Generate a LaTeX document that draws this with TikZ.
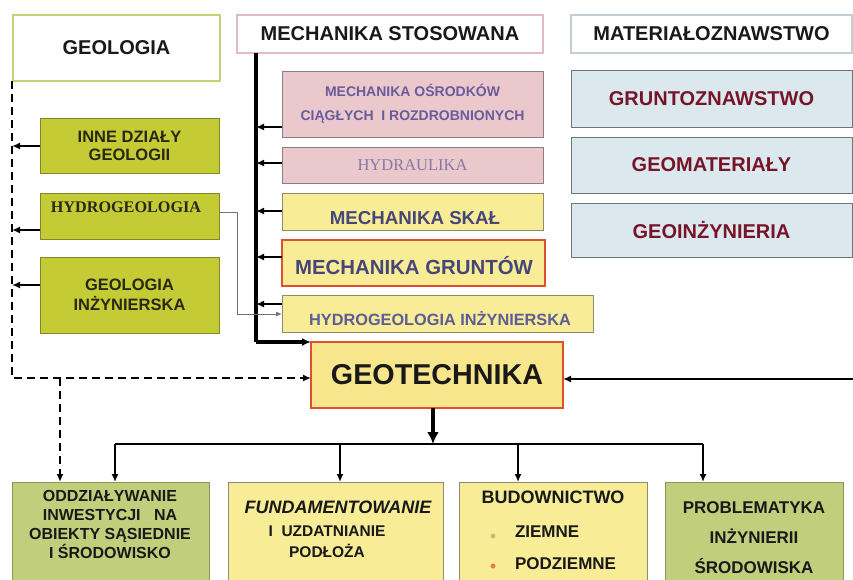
\documentclass[tikz,border=0pt]{standalone}
\usepackage{fontspec}
\setmainfont{Liberation Sans}
\newfontfamily\serifB{Liberation Serif}
\usetikzlibrary{arrows.meta}
\newcommand\setfs[2]{\fontsize{#1}{#2}\selectfont}
\definecolor{gfill}{RGB}{196,203,52}
\definecolor{gborder}{RGB}{130,135,40}
\definecolor{gtext}{RGB}{40,40,20}
\definecolor{pfill}{RGB}{234,200,204}
\definecolor{pborder}{RGB}{140,125,130}
\definecolor{ptext}{RGB}{105,92,156}
\definecolor{htext}{RGB}{135,120,165}
\definecolor{yfill}{RGB}{248,236,150}
\definecolor{yborder}{RGB}{140,140,110}
\definecolor{ytext}{RGB}{70,70,120}
\definecolor{hitext}{RGB}{92,92,152}
\definecolor{redb}{RGB}{225,80,45}
\definecolor{bfill}{RGB}{219,233,239}
\definecolor{bborder}{RGB}{110,118,125}
\definecolor{btext}{RGB}{120,20,40}
\definecolor{geolb}{RGB}{200,208,120}
\definecolor{msb}{RGB}{225,185,200}
\definecolor{matb}{RGB}{195,205,215}
\definecolor{lgfill}{RGB}{193,207,124}
\definecolor{lgborder}{RGB}{140,150,90}
\definecolor{txtblack}{RGB}{25,25,25}
\definecolor{geofill}{RGB}{247,230,140}
\begin{document}
\begin{tikzpicture}[x=1pt,y=-1pt,
  every node/.style={outer sep=0pt, inner sep=0pt},
  hdr/.style={draw, line width=1.2pt, fill=white, font=\bfseries\setfs{20}{24}, text=txtblack},
  gbox/.style={draw=gborder, fill=gfill, line width=1pt, font=\bfseries\setfs{16.5}{18}, text=gtext, align=center},
  pbox/.style={draw=pborder, fill=pfill, line width=1pt},
  ybox/.style={draw=yborder, fill=yfill, line width=1pt},
  bbox/.style={draw=bborder, fill=bfill, line width=1pt, font=\bfseries\setfs{20}{24}, text=btext},
  lowbox/.style={draw=lgborder, line width=1pt},
  lowtext/.style={font=\bfseries\setfs{16}{19}, text=txtblack, align=center},
  conn/.style={line width=2.6pt, -{Latex[length=8pt,width=7pt]}},
  trunk/.style={line width=3.2pt},
  dashline/.style={line width=2.8pt, dash pattern=on 8pt off 5pt},
  thinarr/.style={line width=1pt, draw=black!55, -{Latex[length=6pt,width=5pt]}},
  bullet/.style={circle, minimum size=5pt}
]
\useasboundingbox (0,0) rectangle (853,579);
\clip (0,0) rectangle (853,579);
\fill[white] (0,0) rectangle (853,579);

% headers
\node[hdr, draw=geolb, minimum width=207pt, minimum height=66pt] (geol) at (116.5,48) {GEOLOGIA};
\node[hdr, draw=msb, minimum width=306pt, minimum height=38pt] (ms) at (390,34) {MECHANIKA STOSOWANA};
\node[hdr, draw=matb, minimum width=281pt, minimum height=38pt] (mat) at (711.5,34) {MATERIAŁOZNAWSTWO};

% material boxes
\node[bbox, minimum width=281pt, minimum height=57pt] (grunt) at (711.5,98.5) {GRUNTOZNAWSTWO};
\node[bbox, minimum width=281pt, minimum height=56pt] (geomat) at (711.5,165) {GEOMATERIAŁY};
\node[bbox, minimum width=281pt, minimum height=54pt] (geoinz) at (711.5,230) {GEOINŻYNIERIA};

% mechanics boxes
\node[pbox, minimum width=261pt, minimum height=66pt, font=\bfseries\setfs{14}{24}, text=ptext, align=center] (mos) at (412.5,104) {MECHANIKA OŚRODKÓW\\CIĄGŁYCH\ \ I ROZDROBNIONYCH};
\node[pbox, minimum width=261pt, minimum height=36pt, font=\serifB\setfs{16.5}{18}, text=htext] (hydr) at (412.5,165) {HYDRAULIKA};
\node[ybox, minimum width=261pt, minimum height=37pt] (skal) at (412.5,211.5) {};
\node[font=\bfseries\setfs{18.7}{22}, text=ytext] (skalt) at (415,218) {MECHANIKA SKAŁ};
\node[ybox, draw=redb, line width=1.6pt, minimum width=263pt, minimum height=46pt] (mg) at (413.5,263) {};
\node[font=\bfseries\setfs{20.4}{24}, text=ytext] (mgt) at (414,266) {MECHANIKA GRUNTÓW};
\node[ybox, minimum width=311pt, minimum height=37pt] (hinz) at (437.5,313.5) {};
\node[font=\bfseries\setfs{16.3}{20}, text=hitext] (hinzt) at (440,319) {HYDROGEOLOGIA INŻYNIERSKA};

% geotechnika
\node[draw=redb, fill=geofill, line width=1.6pt, minimum width=252pt, minimum height=66pt, font=\bfseries\setfs{28.7}{32}, text=txtblack] (geo) at (437,375) {GEOTECHNIKA};

% geology boxes
\node[gbox, minimum width=179pt, minimum height=55pt] (inne) at (129.5,145.5) {INNE DZIAŁY\\GEOLOGII};
\node[gbox, minimum width=179pt, minimum height=46pt] (hydro) at (129.5,216) {};
\node[font=\serifB\bfseries\setfs{16.2}{18}, text=gtext] (hydrot) at (126,207) {HYDROGEOLOGIA};
\node[gbox, minimum width=179pt, minimum height=76pt, font=\bfseries\setfs{16.5}{20}] (ginz) at (129.5,295) {GEOLOGIA\\INŻYNIERSKA};

% bottom boxes
\node[lowbox, fill=lgfill, minimum width=197pt, minimum height=130pt] (oddz) at (110.5,547) {};
\node[lowbox, draw=yborder, fill=yfill, minimum width=215pt, minimum height=130pt] (fund) at (335.5,547) {};
\node[lowbox, draw=yborder, fill=yfill, minimum width=188pt, minimum height=130pt] (bud) at (553,547) {};
\node[lowbox, fill=lgfill, minimum width=178pt, minimum height=130pt] (prob) at (754,547) {};

\node[lowtext] (oddzt) at (110,524) {ODDZIAŁYWANIE\\INWESTYCJI\ \ \ NA\\OBIEKTY SĄSIEDNIE\\I ŚRODOWISKO};
\node[lowtext, font=\bfseries\itshape\setfs{18}{20}] (fund1) at (338,507) {FUNDAMENTOWANIE};
\node[lowtext, font=\bfseries\setfs{15.5}{21}] (fund2) at (327,542) {I\ \ UZDATNIANIE\\PODŁOŻA};
\node[lowtext, font=\bfseries\setfs{18}{20}] (budt) at (553,497) {BUDOWNICTWO};
\node[lowtext, font=\bfseries\setfs{17}{20}, anchor=west] (zie) at (515,532) {ZIEMNE};
\node[lowtext, font=\bfseries\setfs{17}{20}, anchor=west] (pzie) at (515,564) {PODZIEMNE};
\node[bullet, fill={rgb,255:red,205;green,185;blue,120}] (b1) at (493,536) {};
\node[bullet, fill={rgb,255:red,225;green,130;blue,70}] (b2) at (493,566) {};
\node[lowtext, font=\bfseries\setfs{17}{30}] (probt) at (754,538) {PROBLEMATYKA\\INŻYNIERII\\ŚRODOWISKA};

% trunk from mechanika stosowana
\coordinate (vx) at (256,0);
\draw[trunk] (vx |- ms.south) -- (vx |- geo.north);
\draw[line width=3.2pt, -{Latex[length=9pt,width=8pt]}] (vx |- geo.north) -- (geo.north west);
\coordinate (m1) at (256,127);
\coordinate (m2) at (256,163);
\coordinate (m3) at (256,211);
\coordinate (m4) at (256,257);
\coordinate (m5) at (256,304);
\draw[conn] (mos.west |- m1) -- (m1);
\draw[conn] (hydr.west |- m2) -- (m2);
\draw[conn] (skal.west |- m3) -- (m3);
\draw[conn] (mg.west |- m4) -- (m4);
\draw[conn] (hinz.west |- m5) -- (m5);

% geology dashed line
\coordinate (dc) at (12,378);
\coordinate (dtop) at (12,81);
\draw[dashline, -{Latex[length=8pt,width=7pt]}] (dtop) -- (dc) -- (geo.west |- dc);
\coordinate (db) at (60,378);
\draw[dashline, -{Latex[length=8pt,width=7pt]}] (db) -- (db |- oddz.north);
\coordinate (d1) at (12,146);
\coordinate (d2) at (12,230);
\coordinate (d3) at (12,285);
\draw[conn] (inne.west |- d1) -- (d1);
\draw[conn] (hydro.west |- d2) -- (d2);
\draw[conn] (ginz.west |- d3) -- (d3);

% hydrogeologia -> hydrogeologia inzynierska
\coordinate (h1) at (237,212);
\coordinate (h2) at (237,314);
\draw[thinarr] (hydro.east |- h1) -- (h1) -- (h2) -- (hinz.west |- h2);

% materialoznawstwo -> geotechnika
\coordinate (r) at (853,379);
\draw[conn] (r) -- (geo.east |- r);

% geotechnika -> applications
\coordinate (hb) at (433,444);
\draw[line width=3.5pt, -{Latex[length=12pt,width=12pt]}] (geo.south -| hb) -- (hb);
\coordinate (b1x) at (115,444);
\coordinate (b2x) at (340,444);
\coordinate (b3x) at (518,444);
\coordinate (b4x) at (703,444);
\draw[line width=2.6pt] (b1x) -- (b4x);
\draw[conn] (b1x) -- (b1x |- oddz.north);
\draw[conn] (b2x) -- (b2x |- fund.north);
\draw[conn] (b3x) -- (b3x |- bud.north);
\draw[conn] (b4x) -- (b4x |- prob.north);
\end{tikzpicture}
\end{document}
